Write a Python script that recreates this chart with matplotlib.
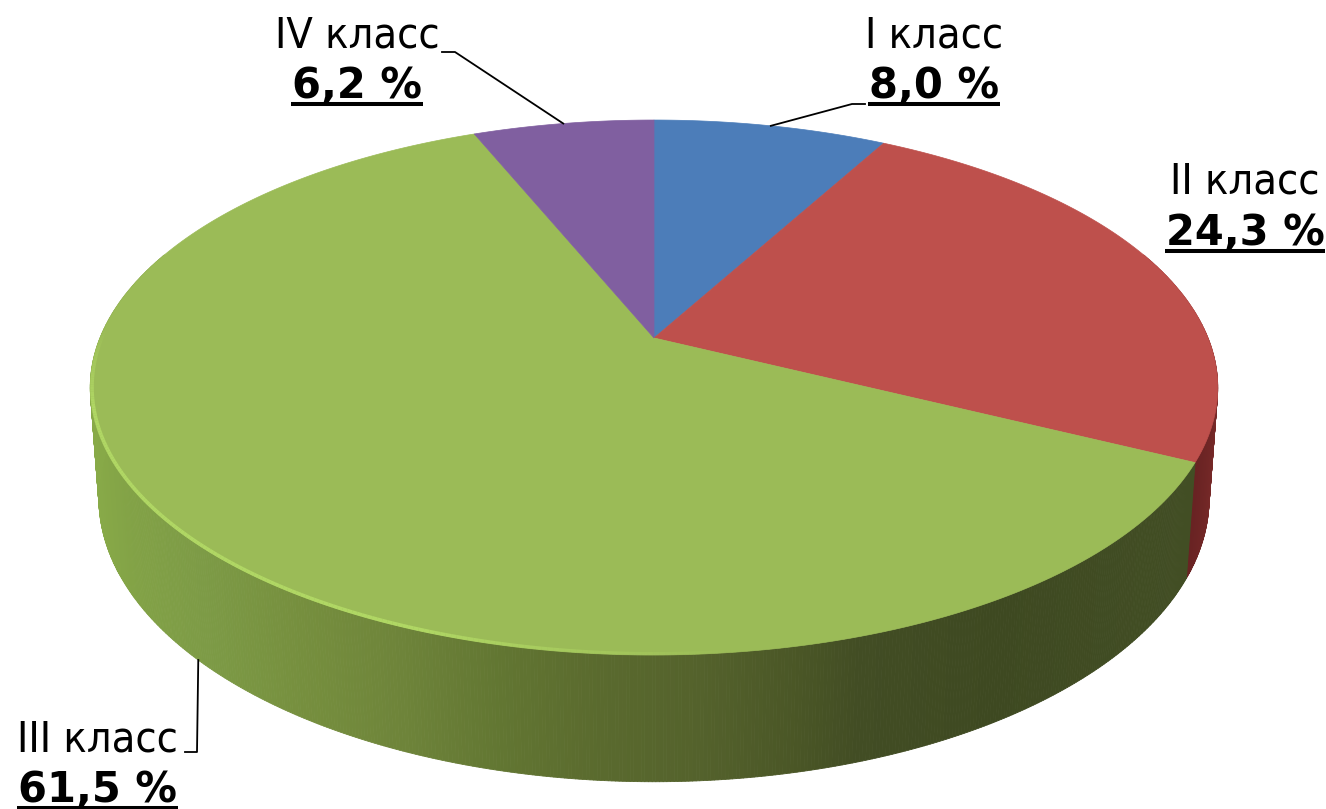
import numpy as np
import matplotlib
matplotlib.use("Agg")
import matplotlib.pyplot as plt
from matplotlib.collections import PolyCollection, LineCollection
from matplotlib.patches import Polygon

# ---- data ----
classes = ["I класс", "II класс", "III класс", "IV класс"]
shares = [8.0, 24.3, 61.5, 6.2]
share_labels = ["8,0 %", "24,3 %", "61,5 %", "6,2 %"]
colors = ["#4C7DB9", "#BE504C", "#9BBB57", "#805FA0"]

# ---- geometry of the perspective disc (pixel space) ----
CX, CY = 654, 338
A, B, K = 554, 258.3, 0.185
C_Z, M_Z = 110, 0.015

def project(theta, z=0.0, r=1.0):
    u, v = r * np.sin(theta), -r * np.cos(theta)
    w = 1 - K * v + M_Z * z
    return CX + A * u / w, CY + (B * v + C_Z * z) / w

W, H = 1326, 809
fig = plt.figure(figsize=(W / 100, H / 100), dpi=100, facecolor="white")
ax = fig.add_axes([0, 0, 1, 1])
ax.set_xlim(0, W)
ax.set_ylim(H, 0)
ax.axis("off")

edges = np.radians(np.concatenate([[0], np.cumsum(shares)]) * 3.6)
mids = (edges[:-1] + edges[1:]) / 2

# ---- side wall ----
wall_x = [90, 130, 200, 300, 400, 500, 600, 700, 800, 860, 1000, 1195]
wall_r = [136, 130, 125, 118, 110, 98, 90, 84, 74, 66, 62, 66]
wall_g = [170, 162, 155, 143, 132, 118, 106, 98, 86, 77, 73, 78]
wall_b = [72, 70, 70, 62, 58, 50, 46, 44, 38, 36, 33, 36]

th = np.linspace(np.radians(70), np.radians(290), 700)
polys, cols = [], []
for t0, t1 in zip(th[:-1], th[1:]):
    tm = (t0 + t1) / 2
    x0, y0 = project(t0)
    x1, y1 = project(t1)
    x2, y2 = project(t1, 1)
    x3, y3 = project(t0, 1)
    polys.append([(x0, y0), (x1, y1), (x2, y2), (x3, y3)])
    xm = (x0 + x1) / 2
    if tm < edges[2]:
        f = np.clip((np.degrees(tm) - 80) / 36, 0, 1)
        cols.append(((150 - 45 * f) / 255, (55 - 20 * f) / 255, (52 - 17 * f) / 255))
    else:
        cols.append((np.interp(xm, wall_x, wall_r) / 255,
                     np.interp(xm, wall_x, wall_g) / 255,
                     np.interp(xm, wall_x, wall_b) / 255))
ax.add_collection(PolyCollection(polys, facecolors=cols, edgecolors=cols, linewidths=0.6))

# ---- top face ----
for i in range(len(shares)):
    t = np.linspace(edges[i], edges[i + 1], 300)
    x, y = project(t)
    pts = np.column_stack([np.r_[CX, x], np.r_[CY, y]])
    ax.add_patch(Polygon(pts, closed=True, facecolor=colors[i], edgecolor=colors[i], linewidth=0.5))

# ---- bright rim on the front-left of the top face ----
t = np.radians(np.linspace(172, 272, 200))
x, y = project(t, r=0.997)
segs = [[(x[i], y[i]), (x[i + 1], y[i + 1])] for i in range(len(t) - 1)]
a = np.clip(np.minimum((t[:-1] - t[0]) / 0.5, (t[-1] - t[:-1]) / 0.3), 0, 1) * 0.9
ax.add_collection(LineCollection(segs, colors=[(0.70, 0.86, 0.40, v) for v in a], linewidths=2.6))

# ---- labels ----
label_cx = [934, 1245, 97, 357]
base_1 = [47, 193, 752, 47]
base_2 = [98, 245, 802, 98]
fig.canvas.draw()
rend = fig.canvas.get_renderer()
for i in range(4):
    ax.text(label_cx[i], base_1[i], classes[i], ha="center", va="baseline",
            fontsize=31, color="black", family="DejaVu Sans", stretch="condensed")
    s = ax.text(label_cx[i], base_2[i], share_labels[i], ha="center", va="baseline",
                fontsize=30, fontweight="bold", color="black", family="DejaVu Sans")
    bb = s.get_window_extent(rend).transformed(ax.transData.inverted())
    ax.plot([min(bb.x0, bb.x1) - 1, max(bb.x0, bb.x1) + 1], [base_2[i] + 5.5] * 2,
            color="black", lw=2.9, solid_capstyle="butt")

# ---- leader lines, anchored at each slice's mid-angle ----
p0 = project(mids[0])
ax.plot([p0[0], 852, 865], [p0[1], 104, 104], color="black", lw=1.3)
p3 = project(mids[3])
ax.plot([p3[0], 455, 442], [p3[1], 52, 52], color="black", lw=1.3)
p2 = project(mids[2], 1)
ax.plot([p2[0], 197, 185], [p2[1], 752, 752], color="black", lw=1.3)

fig.savefig("out.png", dpi=100, facecolor="white")
